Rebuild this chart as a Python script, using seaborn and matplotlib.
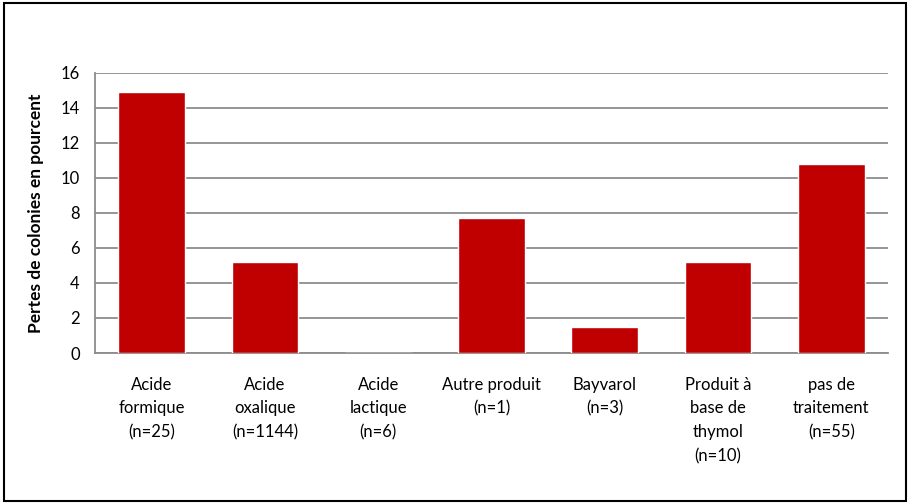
import matplotlib
matplotlib.use("Agg")
import matplotlib.pyplot as plt
import seaborn as sns
import pandas as pd
from matplotlib.patches import Rectangle

# Data
categories = [
    "Acide\nformique\n(n=25)",
    "Acide\noxalique\n(n=1144)",
    "Acide\nlactique\n(n=6)",
    "Autre produit\n(n=1)",
    "Bayvarol\n(n=3)",
    "Produit à\nbase de\nthymol\n(n=10)",
    "pas de\ntraitement\n(n=55)",
]
losses = [14.9, 5.2, 0.0, 7.7, 1.5, 5.2, 10.8]
y_ticks = [0, 2, 4, 6, 8, 10, 12, 14, 16]

df = pd.DataFrame({"cat": categories, "val": losses})

sns.set_style("white")
plt.rcParams["font.family"] = ["Lato", "DejaVu Sans"]

fig = plt.figure(figsize=(9.1, 5.04), dpi=100)
ax = fig.add_axes([0.1044, 0.2996, 0.8714, 0.5556])

sns.barplot(data=df, x="cat", y="val", color="#C00000", saturation=1,
            width=0.59, ax=ax, zorder=3)

ax.set_ylim(0, 16)
ax.set_yticks(y_ticks)
ax.set_xlim(-0.5, len(categories) - 0.5)
ax.yaxis.grid(True, color="#8c8c8c", linewidth=1.3, zorder=0)
ax.set_axisbelow(True)

for s in ["top", "right"]:
    ax.spines[s].set_visible(False)
ax.spines["left"].set_color("#8c8c8c")
ax.spines["bottom"].set_color("#8c8c8c")
ax.spines["left"].set_linewidth(1.3)
ax.spines["bottom"].set_linewidth(1.3)

ax.tick_params(axis="y", direction="out", length=5, width=1.3, color="#8c8c8c",
               labelsize=12, pad=6, labelcolor="black")
ax.tick_params(axis="x", length=0, labelsize=12, pad=17, labelcolor="black")
for lab in ax.get_xticklabels():
    lab.set_linespacing(1.6)
    lab.set_verticalalignment("top")

ax.set_xlabel("")
ax.set_ylabel("Pertes de colonies en pourcent", fontsize=12.5, fontweight="bold",
              labelpad=12, color="black")

# outer chart border
fig.patches.append(Rectangle((0.004, 0.006), 0.992, 0.988, transform=fig.transFigure,
                             fill=False, edgecolor="black", linewidth=1.5))

fig.savefig("out.png", dpi=100)
